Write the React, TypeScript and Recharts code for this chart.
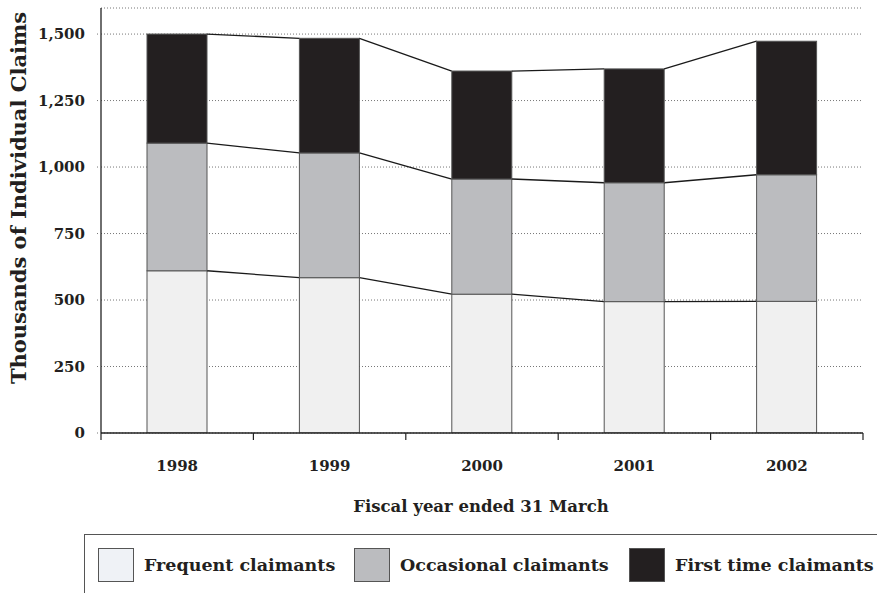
import React from "react";
import { BarChart, Bar, XAxis, YAxis, CartesianGrid, Label } from "recharts";

// values in thousands of claims
const years = ["1998", "1999", "2000", "2001", "2002"];
const frequent = [610, 584, 522, 494, 495];
const occasional = [480, 469, 433, 447, 476];
const firstTime = [410, 431, 406, 428, 502];
const yTicks = [0, 250, 500, 750, 1000, 1250, 1500];
const edgeTicks = [0, 1, 2, 3, 4, 5];

const seriesKeys = ["frequent", "occasional", "firstTime"];
const seriesNames = ["Frequent claimants", "Occasional claimants", "First time claimants"];
const seriesColors = ["#f0f0f0", "#bbbcbf", "#231f20"];
const legendSwatch = ["#eff2f6", "#bbbcbf", "#231f20"];

// pos = middle of each year's slot on a 0..5 axis, so tick marks sit between years
const data = years.map((year, i) => ({
  year,
  pos: i + 0.5,
  frequent: frequent[i],
  occasional: occasional[i],
  firstTime: firstTime[i],
}));

const W = 877;
const H = 593;
const MARGIN = { top: 8, right: 14, left: 0, bottom: 0 };
const Y_AXIS_W = 101;
const PLOT_W = W - MARGIN.left - MARGIN.right - Y_AXIS_W;
const STEP = PLOT_W / years.length;
const FONT = "'DejaVu Serif', 'Liberation Serif', serif";
const INK = "#231f20";

// top of a stacked segment for a row
const cumTop = (i: number, key: string) => {
  let sum = 0;
  for (const k of seriesKeys) {
    sum += (data[i] as any)[k];
    if (k === key) break;
  }
  return sum;
};

// bar + Excel style "series line" to the next bar's segment top
const makeShape = (key: string, fill: string) => (props: any) => {
  const { x, y, width, height, index } = props;
  const seg = (data[index] as any)[key];
  const ppu = seg ? height / seg : 0;
  let line = null;
  if (index < data.length - 1 && ppu > 0) {
    const ny = y + (cumTop(index, key) - cumTop(index + 1, key)) * ppu;
    line = <line x1={x + width} y1={y} x2={x + STEP} y2={ny} stroke="#1a1a1a" strokeWidth={1.3} />;
  }
  return (
    <g>
      <rect x={x} y={y} width={width} height={height} fill={fill} stroke="#555" strokeWidth={1} />
      {line}
    </g>
  );
};

// year label drawn in the middle of the slot to the right of each edge tick
const YearTick = (props: any) => {
  const { x, y, payload } = props;
  const label = years[payload.value];
  if (!label) return <g />;
  return (
    <text x={x + STEP / 2} y={y} dy="0.71em" textAnchor="middle" fontFamily={FONT} fontWeight="bold" fontSize={15} fill={INK}>
      {label}
    </text>
  );
};

function Legend() {
  const lefts = [97, 353, 628];
  return (
    <div
      style={{
        position: "absolute",
        left: 84,
        top: 534,
        width: W - 84,
        height: H - 534,
        borderTop: "1.5px solid #555",
        borderLeft: "1.5px solid #555",
        boxSizing: "border-box",
      }}
    >
      {seriesNames.map((name, i) => (
        <div
          key={name}
          style={{
            position: "absolute",
            left: lefts[i] - 84,
            top: 13,
            display: "flex",
            alignItems: "center",
            whiteSpace: "nowrap",
          }}
        >
          <div
            style={{
              width: 36,
              height: 34,
              background: legendSwatch[i],
              border: "1px solid #555",
              boxSizing: "border-box",
              marginRight: 10,
            }}
          />
          <span style={{ fontFamily: FONT, fontWeight: "bold", fontSize: 17.5, color: INK }}>{name}</span>
        </div>
      ))}
    </div>
  );
}

export default function App() {
  return (
    <div style={{ position: "absolute", left: 0, top: 0, width: W, height: H, background: "#fff" }}>
      <BarChart width={W} height={H} data={data} margin={MARGIN} barSize={60}>
        <CartesianGrid vertical={false} stroke="#777" strokeDasharray="1 2" />
        <XAxis
          dataKey="pos"
          type="number"
          domain={[0, 5]}
          ticks={edgeTicks}
          allowDataOverflow
          height={160}
          axisLine={{ stroke: "#222", strokeWidth: 1.3 }}
          tickLine={{ stroke: "#222", strokeWidth: 1.2 }}
          tickSize={7}
          tickMargin={20}
          tick={<YearTick />}
        >
          <Label
            content={() => (
              <text x={481} y={512} textAnchor="middle" fontFamily={FONT} fontWeight="bold" fontSize={16.5} fill={INK}>
                Fiscal year ended 31 March
              </text>
            )}
          />
        </XAxis>
        <YAxis
          width={Y_AXIS_W}
          domain={[0, 1598]}
          ticks={yTicks}
          allowDataOverflow
          tickFormatter={(v: number) => v.toLocaleString("en-US")}
          axisLine={{ stroke: "#222", strokeWidth: 1.3 }}
          tickSize={4}
          tickLine={{ stroke: "#777", strokeDasharray: "1 2" }}
          tickMargin={12}
          tick={{ fontFamily: FONT, fontWeight: "bold", fontSize: 15, fill: INK }}
        >
          <Label
            content={() => (
              <text
                x={26}
                y={198}
                transform="rotate(-90, 26, 198)"
                textAnchor="middle"
                fontFamily={FONT}
                fontWeight="bold"
                fontSize={21}
                fill={INK}
              >
                Thousands of Individual Claims
              </text>
            )}
          />
        </YAxis>
        {seriesKeys.map((key, i) => (
          <Bar
            key={key}
            dataKey={key}
            name={seriesNames[i]}
            stackId="claims"
            fill={seriesColors[i]}
            shape={makeShape(key, seriesColors[i])}
            isAnimationActive={false}
          />
        ))}
      </BarChart>
      <Legend />
    </div>
  );
}
